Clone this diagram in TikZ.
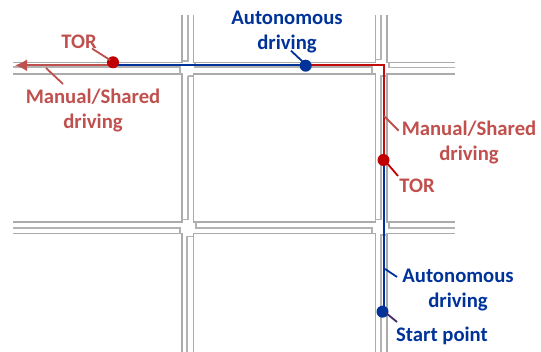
\documentclass[tikz,border=0pt]{standalone}
\usetikzlibrary{arrows.meta}
\usepackage{fontspec}
\setmainfont{Carlito}
\definecolor{redtxt}{HTML}{C0504D}
\definecolor{redln}{HTML}{C00000}
\definecolor{bluetxt}{HTML}{003399}
\definecolor{roadc}{HTML}{ABABAB}
\definecolor{startln}{HTML}{3F2A6B}
\tikzset{
  x=1pt,y=-1pt,
  road/.style={draw=roadc,line width=1.2pt},
  lane/.style={draw=roadc!90,line width=1.2pt},
  dotnode/.style={circle,inner sep=0pt,minimum size=12pt},
  reddot/.style={dotnode,fill=redln},
  bluedot/.style={dotnode,fill=bluetxt},
  lab/.style={font=\bfseries\fontsize{20.7}{25}\selectfont,align=center,inner sep=0pt},
  redlab/.style={lab,text=redtxt},
  bluelab/.style={lab,text=bluetxt},
  redleader/.style={draw=redtxt,line width=1.8pt},
  blueleader/.style={draw=bluetxt,line width=1.8pt},
  redroute/.style={draw=redln!85!redtxt,line width=1.7pt},
  manual/.style={draw=redtxt,line width=2pt},
  blueroute/.style={draw=bluetxt,line width=1.7pt},
}
\begin{document}
\begin{tikzpicture}
\useasboundingbox (0,0) rectangle (541,352);
% roads: outer edges
\path[road] (13,62.5) -- (182,62.5) -- (182,15);
\path[road] (193.3,15) -- (193.3,62.5) -- (375.3,62.5) -- (375.3,15);
\path[road] (387,15) -- (387,62.5) -- (455,62.5);
\path[road] (13,74) -- (182,74) -- (182,222) -- (13,222);
\path[road] (193.3,222) -- (193.3,74) -- (375.3,74) -- (375.3,222) -- (193.3,222);
\path[road] (455,74) -- (387,74) -- (387,222) -- (455,222);
\path[road] (13,233.5) -- (182,233.5) -- (182,352);
\path[road] (193.3,352) -- (193.3,233.5) -- (375.3,233.5) -- (375.3,352);
\path[road] (387,352) -- (387,233.5) -- (455,233.5);
% roads: centre lines with their jogs
\path[lane] (13,67) -- (180,67) -- (180,74);
\path[lane] (188,15) -- (188,61) -- (182,61);
\path[lane] (188,76) -- (193.3,76);
\path[lane] (188,76) -- (188,219.5) -- (182,219.5);
\path[lane] (195,62.5) -- (195,67) -- (372,67) -- (372,74);
\path[lane] (381,15) -- (381,59.5) -- (375.3,59.5);
\path[lane] (389,62.5) -- (389,67.5) -- (455,67.5);
\path[lane] (387,76) -- (381,76) -- (381,219.5) -- (375.3,219.5);
\path[lane] (13,228) -- (180,228) -- (180,233.5);
\path[lane] (196,222) -- (196,228) -- (372,228) -- (372,233.5);
\path[lane] (389,222) -- (389,228) -- (455,228);
\path[lane] (187,352) -- (187,236.5) -- (193.3,236.5);
\path[lane] (381,352) -- (381,235) -- (387,235);
% route way-points
\coordinate (rStart) at (383.7,311.7);
\coordinate (rTorB) at (383.7,160);
\coordinate (corner) at (383.7,65.3);
\coordinate (rAuto) at (305.7,65.3);
\coordinate (rTorA) at (113,65.3);
\coordinate (arrowend) at (15,65.3);
% routes
\draw[blueroute] (rStart) -- (rTorB);
\draw[redroute] (rTorB) -- (corner) -- (rAuto);
\draw[blueroute] (rAuto) -- (rTorA);
\draw[manual,-{Latex[length=12pt,width=12pt]}] (rTorA) -- (arrowend);
% dots
\node[reddot] (torA) at (113,62.3) {};
\node[bluedot] (autoA) at (305.7,65.7) {};
\node[reddot] (torB) at (383.5,160) {};
\node[bluedot] (start) at (382.5,311.7) {};
% labels
\node[redlab] (lTorA) at (79,42) {TOR};
\node[redlab] (lManA) at (93,110.5) {Manual/Shared\\driving};
\node[bluelab] (lAutoA) at (287,32.5) {Autonomous\\driving};
\node[redlab] (lManB) at (469,142.5) {Manual/Shared\\driving};
\node[redlab] (lTorB) at (417,186) {TOR};
\node[bluelab] (lAutoB) at (458,290.5) {Autonomous\\driving};
\node[bluelab] (lStart) at (442,336) {Start point};
% leaders
\coordinate (a1) at (92,48.5);   \coordinate (a2) at (110,60);
\coordinate (b1) at (46,68);     \coordinate (b2) at (63,84);
\coordinate (c1) at (291,50.7);  \coordinate (c2) at (303,62);
\coordinate (d1) at (384,116);   \coordinate (d2) at (398.7,130.7);
\coordinate (e1) at (386,162);   \coordinate (e2) at (398,176);
\coordinate (f1) at (385,269);   \coordinate (f2) at (397,277);
\coordinate (g1) at (386,313);   \coordinate (g2) at (397,322);
\draw[redleader] (a1) -- (a2);
\draw[redleader] (b1) -- (b2);
\draw[blueleader] (c1) -- (c2);
\draw[redleader] (d1) -- (d2);
\draw[draw=redln,line width=1.8pt] (e1) -- (e2);
\draw[blueleader] (f1) -- (f2);
\draw[draw=startln,line width=1.8pt] (g1) -- (g2);
\end{tikzpicture}
\end{document}
